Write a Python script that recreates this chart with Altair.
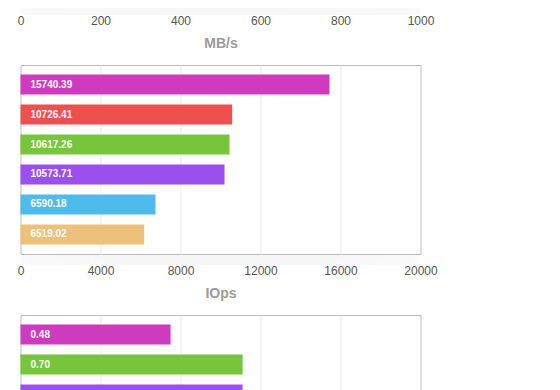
import altair as alt
import pandas as pd

# --- data -------------------------------------------------------------
systems = ["s1", "s2", "s3", "s4", "s5", "s6"]
system_colors = ["#cf3bbf", "#ee5050", "#76c53a", "#9b4fec", "#4dbcec", "#edc17c"]

mbs_ticks = [0, 200, 400, 600, 800, 1000]

iops_ticks = [0, 4000, 8000, 12000, 16000, 20000]
iops_systems = ["s1", "s2", "s3", "s4", "s5", "s6"]
iops_bar = [15450, 10585, 10450, 10200, 6750, 6185]
iops_label = ["15740.39", "10726.41", "10617.26", "10573.71", "6590.18", "6519.02"]

lat_ticks = [0, 0.25, 0.5, 0.75, 1.0, 1.25]
lat_systems = ["s1", "s3", "s4"]
lat_bar = [0.469, 0.694, 0.694]
lat_label = ["0.48", "0.70", ""]

FONT = "Liberation Sans"


def x_axis(title, ticks, fmt, labels=True):
    last = ticks[-1]
    kw = dict(
        values=ticks, format=fmt,
        ticks=False, domain=False, labelFlush=False, labels=labels,
        labelPadding=11, labelFontSize=12, labelColor="#555555", labelFont=FONT,
        grid=True, gridColor="#ebebeb", gridWidth=1,
        gridOpacity={"condition": {"test": f"datum.value <= 0 || datum.value >= {last}", "value": 0}, "value": 1},
    )
    if title:
        kw.update(title=title, titleFont=FONT, titleFontSize=14, titleFontWeight="bold",
                  titleColor="#9b9b9b", titleBaseline="alphabetic", titleY=43)
    else:
        kw.update(title=None)
    return alt.Axis(**kw)


def shadow(ticks, height):
    grad = alt.RadialGradient(
        gradient="radial", x1=0.5, y1=0, r1=0, x2=0.5, y2=0, r2=1,
        stops=[alt.GradientStop(offset=0, color="rgba(0,0,0,0.07)"),
               alt.GradientStop(offset=1, color="rgba(0,0,0,0)")],
    )
    return alt.Chart(pd.DataFrame({"k": [0]})).mark_rect(fill=grad).encode(
        x=alt.datum(ticks[0]), x2=alt.datum(ticks[-1]),
        y=alt.value(height + 1), y2=alt.value(height + 11),
    )


def panel(order, bars_v, labels, ticks, title, fmt, height, show_labels=True):
    df = pd.DataFrame({"system": order, "bar": bars_v, "label": labels})
    base = alt.Chart(df)
    y = alt.Y("system:N", sort=order, axis=None,
              scale=alt.Scale(paddingInner=1 / 3, paddingOuter=0.3167))
    color = alt.Color("system:N", scale=alt.Scale(domain=systems, range=system_colors), legend=None)
    bars = base.mark_bar().encode(
        x=alt.X("bar:Q", scale=alt.Scale(domain=[ticks[0], ticks[-1]], nice=False),
                axis=x_axis(title, ticks, fmt, show_labels)),
        y=y, color=color,
    )
    text = base.mark_text(align="left", baseline="middle", dx=10, color="white",
                          font=FONT, fontSize=10, fontWeight="bold").encode(
        x=alt.datum(0), y=y, text="label:N")
    return alt.layer(shadow(ticks, height), bars, text).properties(width=400, height=height)


top_axis = alt.Chart(pd.DataFrame({"v": [0]})).mark_point(opacity=0).encode(
    x=alt.X("v:Q", scale=alt.Scale(domain=[0, 1000], nice=False),
            axis=x_axis("MB/s", mbs_ticks, "d"))
)
top = alt.layer(shadow(mbs_ticks, 20), top_axis).properties(width=400, height=20)

mid = panel(iops_systems, iops_bar, iops_label, iops_ticks, "IOps", "d", 189)
bot = panel(lat_systems, lat_bar, lat_label, lat_ticks, None, ".2f", 99, show_labels=False)

chart = alt.vconcat(top, mid, bot, spacing=61, bounds="flush").properties(
    padding={"left": 8.5, "top": -25, "right": 5, "bottom": 5}
).configure_view(stroke="#bcbcbc", strokeWidth=1)

chart.save("out.html", embed_options={"renderer": "svg", "actions": False})
